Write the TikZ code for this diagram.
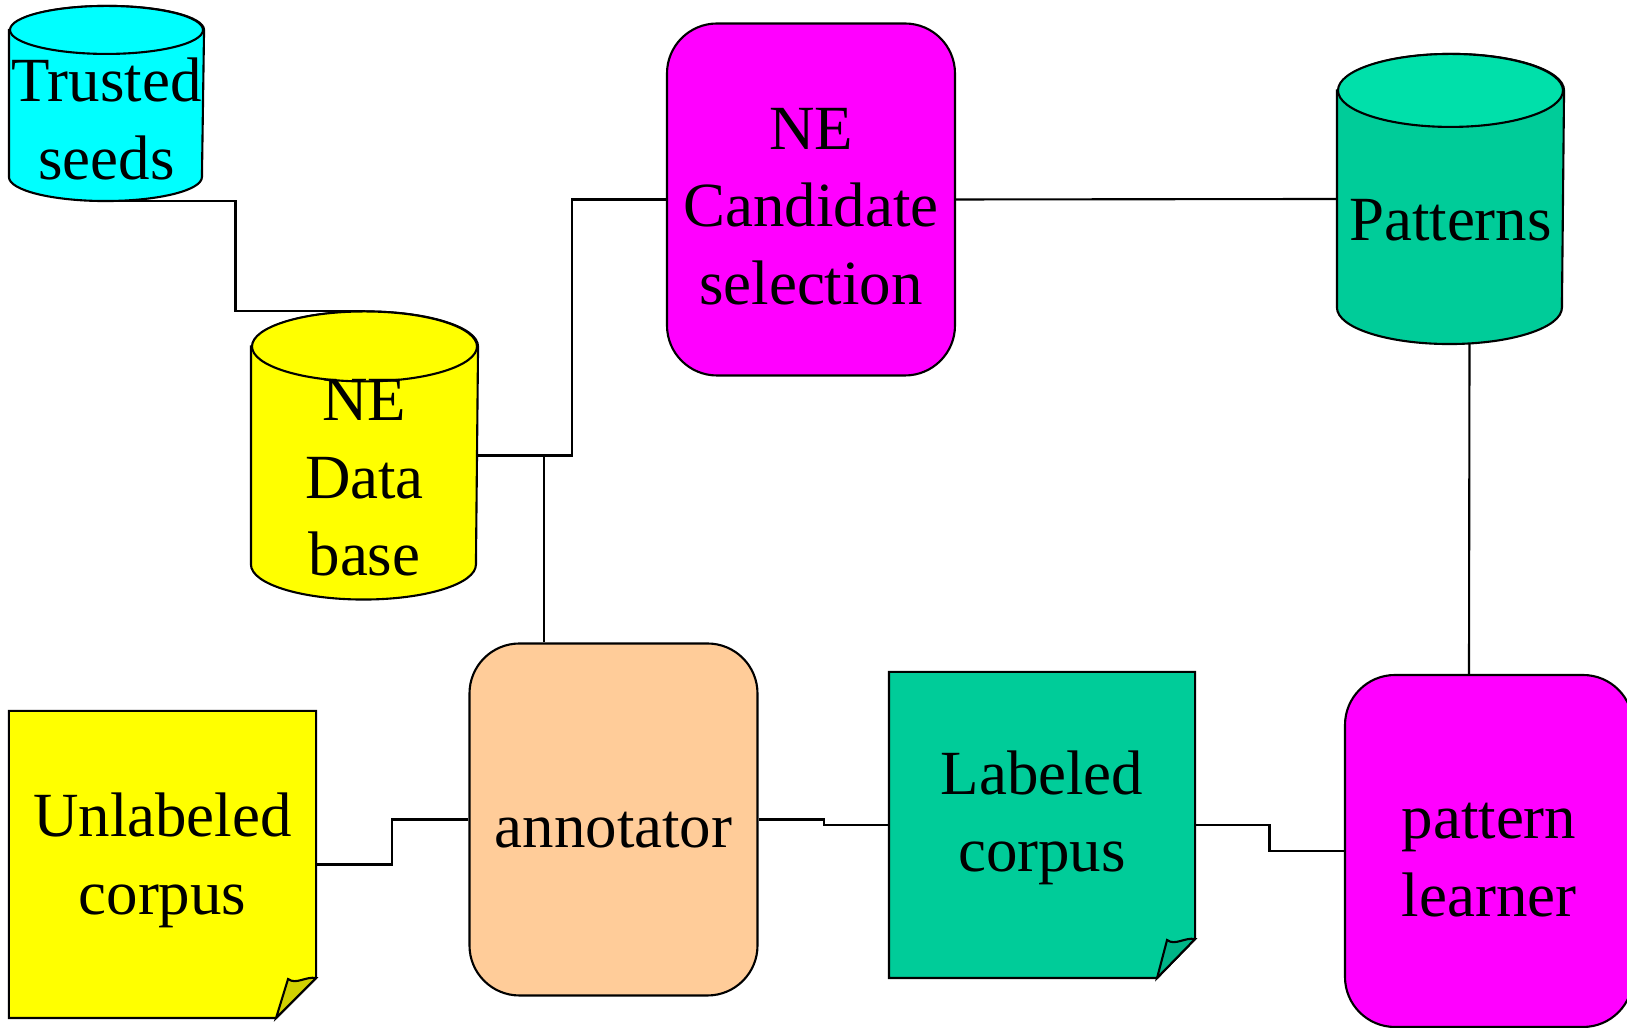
\documentclass[tikz,border=0pt]{standalone}
\usepackage{fontspec}
\setmainfont{Liberation Serif}
\usetikzlibrary{calc, positioning}
\definecolor{Aqua}{HTML}{00FFFF}
\definecolor{Lemon}{HTML}{FFFF00}
\definecolor{Fuchsia}{HTML}{FF00FF}
\definecolor{Sea}{HTML}{00CC99}
\definecolor{SeaTop}{HTML}{00E0AA}
\definecolor{Peach}{HTML}{FFCC99}
% cylinder outline round a named node: name, x radius, y radius of the cap, body colour, cap colour
\newcommand{\drum}[5]{%
  \draw[fill=#4] ([yshift=-#3]#1.north west) -- ([yshift=#3]#1.south west)
      arc[start angle=180, end angle=360, x radius=#2, y radius=#3]
      -- ([yshift=-#3]#1.north east)
      arc[start angle=0, end angle=180, x radius=#2, y radius=#3] -- cycle;
  \draw[fill=#5] ([yshift=-#3]#1.north) ellipse[x radius=#2, y radius=#3];}

\begin{document}
\begin{tikzpicture}[line width=0.6pt,
    txt/.style={font=\fontsize{17.9pt}{22.1pt}\selectfont, align=center, inner sep=0pt},
    store/.style={rectangle, inner sep=0pt},
    proc/.style={rectangle, rounded corners=0.5cm, draw, inner sep=0pt,
                 minimum width=2.88cm, minimum height=3.52cm},
    sheet/.style={rectangle, inner sep=0pt, minimum width=3.05cm, minimum height=3.05cm}]
\useasboundingbox (0,0) rectangle (16.27,10.28);
% data stores
\node[store, minimum width=1.93cm, minimum height=1.93cm] (seeds) at (1.065,9.245) {};
\node[store, minimum width=2.25cm, minimum height=2.86cm] (db) at (3.645,5.725) {};
\node[store, minimum width=2.25cm, minimum height=2.88cm] (pat) at (14.505,8.29) {};
\drum{seeds}{0.965cm}{0.24cm}{Aqua}{Aqua}
\drum{db}{1.125cm}{0.35cm}{Lemon}{Lemon}
\drum{pat}{1.125cm}{0.365cm}{Sea}{SeaTop}
% processes
\node[proc, fill=Fuchsia] (cand) at (8.11,8.285) {};
\node[proc, fill=Peach] (annot) at (6.135,2.085) {};
\node[proc, fill=Fuchsia] (learn) at (14.89,1.77) {};
% corpora (no border, outline drawn below)
\node[sheet] (unlab) at (1.625,1.635) {};
\node[sheet, minimum width=3.04cm, minimum height=3.04cm] (lab) at (10.42,2.03) {};
\draw[fill=Lemon] (unlab.north west) -- (unlab.north east) -- ([yshift=0.4cm]unlab.south east)
    -- ([xshift=-0.4cm]unlab.south east) -- (unlab.south west) -- cycle;
\draw[fill=Lemon!82!black] ([xshift=-0.4cm]unlab.south east) .. controls ([xshift=-0.34cm,yshift=0.2cm]unlab.south east) .. ([xshift=-0.28cm,yshift=0.39cm]unlab.south east)
    .. controls ([xshift=-0.2cm,yshift=0.33cm]unlab.south east) and ([xshift=-0.1cm,yshift=0.42cm]unlab.south east) .. ([yshift=0.4cm]unlab.south east) -- cycle;
\draw[fill=Sea] (lab.north west) -- (lab.north east) -- ([yshift=0.39cm]lab.south east)
    -- ([xshift=-0.38cm]lab.south east) -- (lab.south west) -- cycle;
\draw[fill=Sea!88!black] ([xshift=-0.38cm]lab.south east) .. controls ([xshift=-0.33cm,yshift=0.2cm]lab.south east) .. ([xshift=-0.28cm,yshift=0.38cm]lab.south east)
    .. controls ([xshift=-0.2cm,yshift=0.32cm]lab.south east) and ([xshift=-0.1cm,yshift=0.41cm]lab.south east) .. ([yshift=0.39cm]lab.south east) -- cycle;
% labels
\node[txt] (seedstxt) at (1.065,9.09) {Trusted\\seeds};
\node[txt] (dbtxt) at (3.645,5.50) {NE\\Data\\base};
\node[txt] (pattxt) at (14.505,8.08) {Patterns};
\node[txt] (candtxt) at ([yshift=-0.07cm]cand.center) {NE\\Candidate\\selection};
\node[txt] (annottxt) at ([yshift=-0.11cm]annot.center) {annotator};
\node[txt] (learntxt) at ([yshift=-0.09cm]learn.center) {pattern\\learner};
\node[txt] (unlabtxt) at ([yshift=0.04cm]unlab.center) {Unlabeled\\corpus};
\node[txt] (labtxt) at ([yshift=0.07cm]lab.center) {Labeled\\corpus};
% connectors
\draw (seeds.south) -| ($(seeds.south)!.5!(db.north)$) |- (db.north);
\draw (db.east) -| ($(db.east)!.5!(cand.west)$) |- (cand.west);
\draw (db.east) -| ($(annot.north west)!.26!(annot.north east)$);
\draw (cand.east) -- (pat.west);
\draw ([xshift=1.9mm]pat.south) -- ([xshift=-2mm]learn.north);
\draw (unlab.east) -| ($(unlab.east)!.5!(annot.west)$) |- (annot.west);
\draw (annot.east) -| ($(annot.east)!.5!(lab.west)$) |- (lab.west);
\draw (lab.east) -| ($(lab.east)!.5!(learn.west)$) |- (learn.west);
\end{tikzpicture}
\end{document}
